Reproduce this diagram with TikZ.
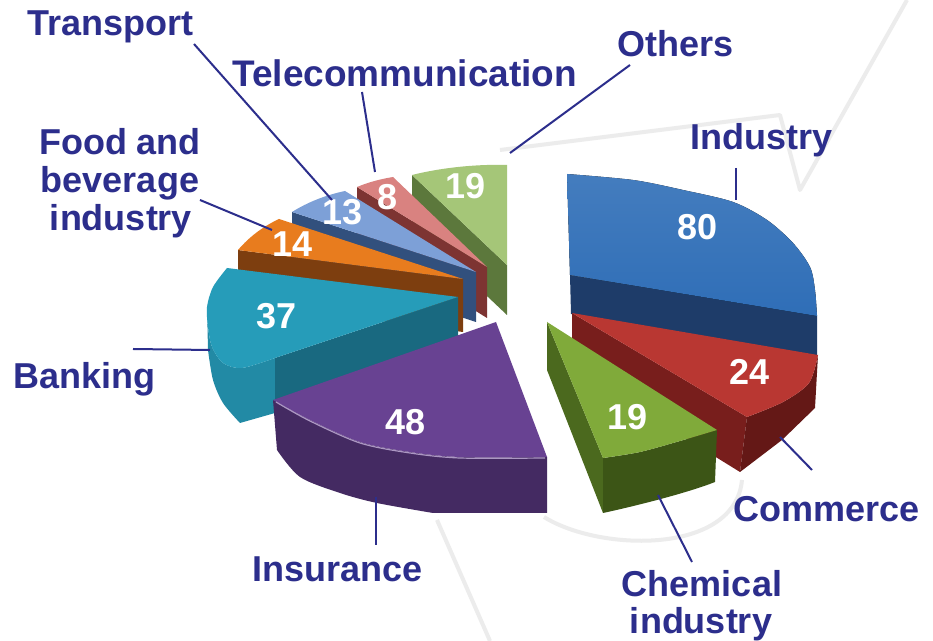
\documentclass[tikz,border=0pt]{standalone}
\usepackage{fontspec}
\setmainfont{Liberation Sans}
\usetikzlibrary{calc}
\definecolor{labelblue}{RGB}{44,46,140}
\definecolor{wmgray}{RGB}{236,236,236}
\definecolor{indTop}{RGB}{47,110,183}
\definecolor{indSide}{RGB}{30,60,105}
\definecolor{comTop}{RGB}{185,55,50}
\definecolor{comSide}{RGB}{120,30,28}
\definecolor{comRim}{RGB}{100,24,22}
\definecolor{chemTop}{RGB}{128,170,58}
\definecolor{chemSide}{RGB}{75,105,30}
\definecolor{chemRim}{RGB}{60,85,22}
\definecolor{insTop}{RGB}{104,66,146}
\definecolor{insRim}{RGB}{68,42,98}
\definecolor{bankTop}{RGB}{38,156,185}
\definecolor{bankRim}{RGB}{34,138,165}
\definecolor{bankSide}{RGB}{25,105,128}
\definecolor{foodTop}{RGB}{232,124,30}
\definecolor{foodSide}{RGB}{125,62,15}
\definecolor{transTop}{RGB}{125,160,215}
\definecolor{transSide}{RGB}{50,80,125}
\definecolor{teleTop}{RGB}{217,130,128}
\definecolor{teleSide}{RGB}{125,52,50}
\definecolor{othTop}{RGB}{165,198,120}
\definecolor{othSide}{RGB}{92,120,60}
\tikzset{
  lbl/.style={text=labelblue, font=\fontsize{18}{20}\selectfont\bfseries, inner sep=0pt},
  num/.style={text=white, font=\fontsize{18}{20}\selectfont\bfseries, inner sep=0pt},
  leader/.style={draw=labelblue, line width=1pt},
  wm/.style={draw=wmgray, line width=2pt, line join=round}
}

\begin{document}
\begin{tikzpicture}[x=0.5pt, y=-0.5pt]
			%%%%% START %%%%%
			\useasboundingbox[fill=white] (0,0) rectangle (933,641);
			
			% watermark
			\draw[wm] (907,0) -- (800,190) -- (780,115) -- (500,150);
			\draw[wm] (437,520) -- (490,641);
			\draw[wm] (544,517) .. controls (600,552) and (735,555) .. (742,480);
			
			% others
			\fill[othSide] (412,175) -- (507,265) -- (507,315) -- (412,225) -- cycle;
			\fill[othTop] (412,175) .. controls (440,168) and (475,164) .. (507,165) -- (507,265) -- cycle;
			
			% telecommunication
			\fill[teleSide] (357,187) -- (487,267) -- (487,318) -- (357,237) -- cycle;
			\fill[teleTop] (357,187) .. controls (369,182) and (381,179) .. (393,177) -- (487,267) -- cycle;
			
			% transport
			\fill[transSide] (292,212) -- (476,272) -- (476,322) -- (292,262) -- cycle;
			\fill[transTop] (292,212) .. controls (308,202) and (326,195) .. (345,191) -- (476,272) -- cycle;
			
			% food and beverage
			\fill[foodSide] (238,250) -- (463,279) -- (463,332) -- (238,302) -- cycle;
			\fill[foodTop] (238,250) .. controls (250,236) and (264,226) .. (279,219) -- (463,279) -- cycle;
			
			% industry
			\fill[indSide] (570,275) -- (817,315) -- (817,357) -- (571,314) -- cycle;
			\fill[top color=indTop!90!white, bottom color=indTop] (570,275) -- plot[smooth] coordinates {(567,174) (633,180) (683,190) (733,202) (767,220) (793,243) (810,267) (815,290) (817,316)} -- cycle;
			
			% banking
			\fill[bankRim] plot[smooth] coordinates {(207,305) (208,327) (212,347) (223,363) (242,368) (275,358)} -- (275,413) -- plot[smooth] coordinates {(240,423) (223,403) (213,380) (208,350)} -- cycle;
			\fill[bankSide] (275,358) -- (458,297) -- (458,345) -- (275,412) -- cycle;
			\fill[bankTop] (458,297) -- plot[smooth] coordinates {(275,358) (242,368) (223,363) (212,347) (208,327) (207,307) (213,287) (227,268)} -- cycle;
			
			% commerce
			\fill[comSide] (572,313) -- (747,417) -- (740,472) -- (572,368) -- cycle;
			\fill[comRim] plot[smooth] coordinates {(747,417) (783,402) (809,383) (818,355)} -- (815,408) -- plot[smooth] coordinates {(782,440) (740,472)} -- cycle;
			\fill[comTop] (572,313) -- plot[smooth] coordinates {(818,355) (809,383) (783,402) (747,417)} -- cycle;
			
			% chemical industry
			\fill[chemSide] (547,322) -- (603,458) -- (603,513) -- (547,370) -- cycle;
			\fill[chemRim] plot[smooth] coordinates {(603,458) (640,452) (680,441) (717,430)} -- (715,482) .. controls (690,492) and (640,505) .. (603,513) -- cycle;
			\fill[chemTop] (547,322) -- plot[smooth] coordinates {(717,430) (680,441) (640,452) (603,458)} -- cycle;
			
			% insurance
			\fill[insRim] plot[smooth] coordinates {(273,400) (310,420) (360,442) (410,452) (460,457) (547,457)} -- (547,513) -- plot[smooth] coordinates {(433,513) (377,503) (340,493) (300,477) (277,450)} -- cycle;
			\fill[insTop] (496,322) -- plot[smooth] coordinates {(273,400) (310,420) (360,442) (410,452) (460,457) (547,457)} -- cycle;
			\draw[insTop!55!white, line width=0.6pt] plot[smooth] coordinates {(276,402) (310,421) (360,443) (410,453) (460,458) (545,458)};
			
			% values
			\node[num] (num80) at (698,227) {80};
			\node[num] (num24) at (750,372) {24};
			\node[num] (num19c) at (628,417) {19};
			\node[num] (num48) at (406,422) {48};
			\node[num] (num37) at (277,316) {37};
			\node[num] (num14) at (293,244) {14};
			\node[num] (num13) at (343,212) {13};
			\node[num] (num8) at (388,197) {8};
			\node[num] (num19o) at (466,186) {19};
			
			% labels
			\node[lbl, anchor=base west] (lblTransport) at (27,36) {Transport};
			\node[lbl, anchor=base west, font=\fontsize{18.5}{20}\selectfont\bfseries] (lblTelecom) at (232,87) {Telecommunication};
			\node[lbl, anchor=base west] (lblOthers) at (617,57) {Others};
			\node[lbl, anchor=base west] (lblIndustry) at (690,150) {Industry};
			\node[lbl, anchor=base] (lblFoodA) at (120,155) {Food and};
			\node[lbl, anchor=base] (lblFoodB) at (120,193) {beverage};
			\node[lbl, anchor=base] (lblFoodC) at (121,231) {industry};
			\node[lbl, anchor=base west] (lblBanking) at (13,389) {Banking};
			\node[lbl, anchor=base west] (lblInsurance) at (252,582) {Insurance};
			\node[lbl, anchor=base] (lblChemA) at (702,597) {Chemical};
			\node[lbl, anchor=base] (lblChemB) at (701,634) {industry};
			\node[lbl, anchor=base west] (lblCommerce) at (733,522) {Commerce};
			
			% leader lines
			\coordinate (trS) at (194,44);   \coordinate (trE) at (332,200);
			\coordinate (teS) at (362,92);   \coordinate (teE) at (375,172);
			\coordinate (otS) at (630,65);   \coordinate (otE) at (510,153);
			\coordinate (inS) at (736,168);  \coordinate (inE) at (736,200);
			\coordinate (foS) at (200,200);  \coordinate (foE) at (272,230);
			\coordinate (baS) at (133,349);  \coordinate (baE) at (210,350);
			\coordinate (isS) at (376,545);  \coordinate (isE) at (376,497);
			\coordinate (chS) at (692,562);  \coordinate (chE) at (658,495);
			\coordinate (coS) at (812,470);  \coordinate (coE) at (780,437);
			\draw[leader] (trS) -- (trE);
			\draw[leader] (teS) -- (teE);
			\draw[leader] (otS) -- (otE);
			\draw[leader] (inS) -- (inE);
			\draw[leader] (foS) -- (foE);
			\draw[leader] (baS) -- (baE);
			\draw[leader] (isS) -- (isE);
			\draw[leader] (chS) -- (chE);
			\draw[leader] (coS) -- (coE);
			%%%%% END %%%%%
\end{tikzpicture}
\end{document}
